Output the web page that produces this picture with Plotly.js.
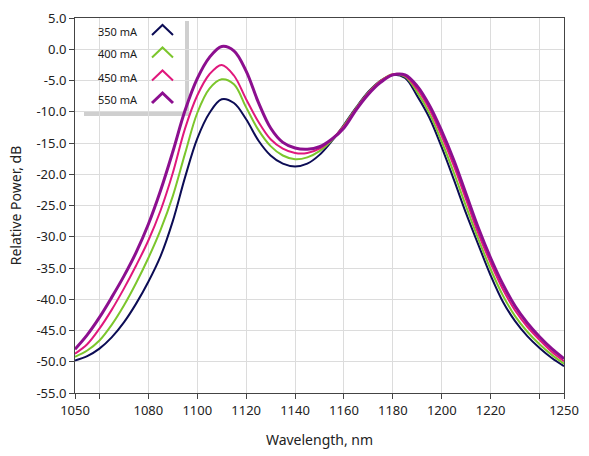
<!DOCTYPE html>
<html>
<head>
<meta charset="utf-8">
<script src="https://cdn.plot.ly/plotly-3.0.1.min.js"></script>
<style>html,body{margin:0;padding:0;background:#fff;}#chart{width:589px;height:456px;}</style>
</head>
<body>
<div id="chart"></div>
<script>
// ---- data ----
const wavelength = [1050,1055,1060,1065,1070,1075,1080,1085,1090,1095,1100,1105,1110,1115,1120,1125,1130,1135,1140,1145,1150,1155,1160,1165,1170,1175,1180,1185,1190,1195,1200,1205,1210,1215,1220,1225,1230,1235,1240,1245,1250];
const power350 = [-49.8,-49.1,-47.9,-46.1,-43.7,-40.7,-37.2,-33.1,-27.5,-20.5,-14.3,-10.2,-8.0,-8.6,-11.2,-14.6,-17.0,-18.3,-18.75,-18.3,-16.9,-14.7,-12.1,-9.3,-6.8,-5.0,-4.1,-4.6,-7.5,-11.0,-15.7,-20.9,-26.3,-31.3,-36.2,-40.4,-43.5,-45.9,-47.8,-49.4,-50.7];
const power400 = [-49.2,-48.2,-46.6,-44.1,-41.0,-37.4,-33.4,-28.9,-23.5,-16.7,-10.2,-6.3,-4.8,-5.6,-9.3,-12.9,-15.5,-17.0,-17.6,-17.3,-16.3,-14.6,-12.2,-9.4,-6.9,-5.05,-4.0,-4.4,-6.9,-10.3,-14.8,-19.8,-25.2,-30.4,-35.2,-39.4,-42.7,-45.2,-47.2,-48.9,-50.3];
const power450 = [-48.7,-47.2,-44.7,-41.7,-38.3,-34.6,-30.6,-25.8,-19.8,-12.7,-7.4,-4.0,-2.5,-4.2,-8.0,-11.6,-14.4,-15.9,-16.6,-16.6,-15.9,-14.4,-12.3,-9.5,-7.0,-5.1,-4.0,-4.25,-6.4,-9.6,-13.9,-18.7,-24.1,-29.5,-34.2,-38.4,-41.8,-44.4,-46.5,-48.4,-49.9];
const power550 = [-48.0,-45.7,-42.9,-39.7,-36.3,-32.5,-28.0,-22.6,-16.4,-9.8,-4.7,-1.3,0.45,-0.25,-3.5,-8.5,-12.6,-14.9,-15.8,-16.0,-15.6,-14.4,-12.6,-9.7,-7.2,-5.3,-4.1,-4.1,-5.9,-9.0,-13.1,-17.8,-23.2,-28.6,-33.4,-37.6,-41.1,-43.8,-46.0,-47.9,-49.5];
const seriesNames = ['350 mA','400 mA','450 mA','550 mA'];
const xTickVals = [1050,1060,1080,1100,1120,1140,1160,1180,1200,1220,1240,1250];
const xTickText = ['1050','','1080','1100','1120','1140','1160','1180','1200','1220','','1250'];
const yTickVals = [5,0,-5,-10,-15,-20,-25,-30,-35,-40,-45,-50,-55];
const yTickText = ['5.0','0.0','-5.0','-10.0','-15.0','-20.0','-25.0','-30.0','-35.0','-40.0','-45.0','-50.0','-55.0'];

// ---- style ----
const colors = ['#0c0c55','#7cc62c','#e0187c','#8c0f8f'];
const widths = [2,2,2,3];
const series = [power350, power400, power450, power550];

const traces = series.map((s,i)=>({
  type:'scatter', mode:'lines', x:wavelength, y:s, name:seriesNames[i],
  line:{color:colors[i], width:widths[i], shape:'spline', smoothing:1},
  hoverinfo:'x+y+name'
}));

const M = {l:75, r:25, t:18, b:63};
const W = 589, H = 456;
const pw = W - M.l - M.r, ph = H - M.t - M.b;
const px = p => (p - M.l)/pw;
const py = p => (H - M.b - p)/ph;

const shapes = [
  {type:'rect', xref:'paper', yref:'paper', x0:px(84), x1:px(189), y0:py(116), y1:py(21), fillcolor:'#cfcfcf', line:{width:0}, layer:'between'},
  {type:'rect', xref:'paper', yref:'paper', x0:px(76), x1:px(185), y0:py(112), y1:py(18), fillcolor:'#ffffff', line:{width:0}, layer:'between'}
];
const annotations = [];
const rowY = [31.5, 54, 77, 99.5];
seriesNames.forEach((n,i)=>{
  annotations.push({xref:'paper', yref:'paper', x:px(96), y:py(rowY[i]), xanchor:'left', yanchor:'middle', text:n, showarrow:false, font:{family:'Noto Sans, sans-serif', size:11, color:'#1a1a1a'}});
  const a = rowY[i]-6.5, b = rowY[i]+3.5;
  shapes.push({type:'path', xref:'paper', yref:'paper', path:`M ${px(152)},${py(b)} L ${px(162.5)},${py(a)} L ${px(173)},${py(b)}`, line:{color:colors[i], width:widths[i]}, layer:'above'});
});

const axisCommon = {
  showgrid:true, gridcolor:'#dcdcdc', gridwidth:1,
  ticks:'outside', ticklen:5, tickcolor:'#444', tickwidth:1,
  showline:true, linecolor:'#444', linewidth:1, mirror:true,
  zeroline:false, tickfont:{size:13, color:'#222'}
};

const layout = {
  width:W, height:H, margin:M,
  paper_bgcolor:'#fff', plot_bgcolor:'#fff',
  font:{family:'Noto Sans, sans-serif', size:13, color:'#222'},
  showlegend:false,
  xaxis:Object.assign({}, axisCommon, {range:[1050,1250], tickmode:'array', tickvals:xTickVals, ticktext:xTickText,
    title:{text:'Wavelength, nm', font:{size:14, color:'#222'}}}),
  yaxis:Object.assign({}, axisCommon, {range:[-55,5], tickmode:'array', tickvals:yTickVals, ticktext:yTickText,
    title:{text:'Relative Power, dB', font:{size:14, color:'#222'}, standoff:11}}),
  shapes:shapes, annotations:annotations
};

Plotly.newPlot('chart', traces, layout, {displayModeBar:false, staticPlot:true});
</script>
</body>
</html>
